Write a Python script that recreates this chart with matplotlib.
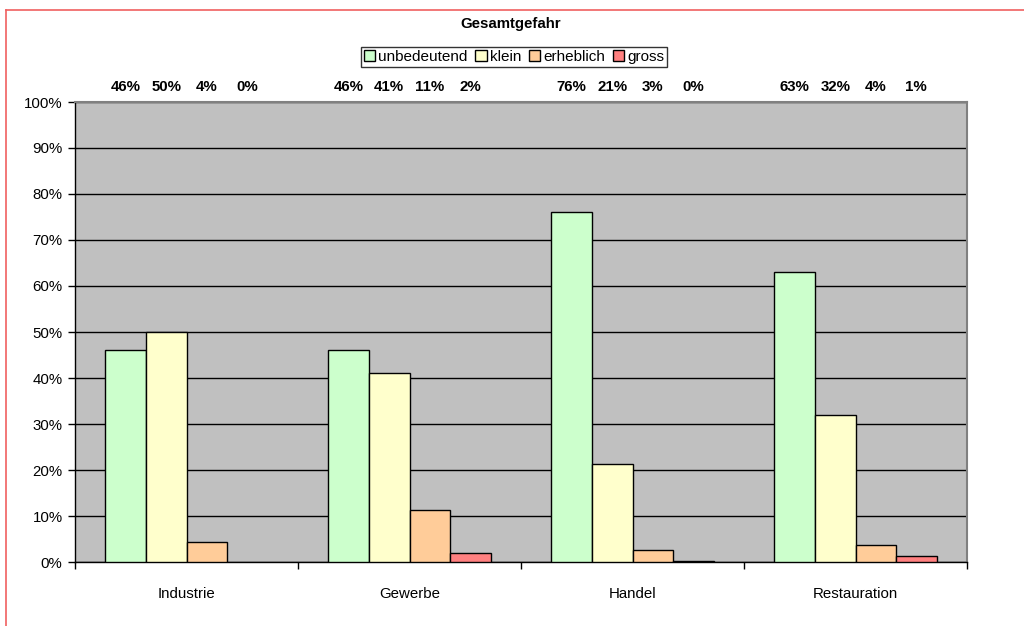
import matplotlib.pyplot as plt
import numpy as np
from matplotlib.lines import Line2D
from matplotlib.patches import Patch
from matplotlib.ticker import FixedLocator, NullFormatter

plt.rcParams['font.family'] = ['Liberation Sans', 'DejaVu Sans']

# Gesamtgefahr je Branche (Anteile in %)
branchen = ['Industrie', 'Gewerbe', 'Handel', 'Restauration']
stufen = ['unbedeutend', 'klein', 'erheblich', 'gross']
unbedeutend = [46, 46, 76, 63]
klein = [50, 41, 21.4, 32]
erheblich = [4.3, 11.4, 2.6, 3.7]
gross = [0, 1.9, 0.2, 1.4]
farben = ['#CCFFCC', '#FFFFCC', '#FFCC99', '#FF8080']

serien = [unbedeutend, klein, erheblich, gross]

fig = plt.figure(figsize=(10.24, 6.26), dpi=100)
ax = fig.add_axes([75/1024, 1 - 562/626, (967-75)/1024, (562-102)/626])
ax.set_facecolor('#C0C0C0')

n = len(branchen)
bw = 1 / 5.5
x = np.arange(n)
for i, (werte, farbe) in enumerate(zip(serien, farben)):
    pos = x - 1.5 * bw + i * bw
    lw = [1.0 if v > 0 else 0 for v in werte]
    ax.bar(pos, werte, width=bw, color=farbe, edgecolor='black', linewidth=lw,
           zorder=3)
    for px, v in zip(pos, werte):
        ax.text(px, 103.2, f'{v:.0f}%', ha='center', va='center',
                fontsize=10.8, fontweight='bold', clip_on=False)

ax.set_xlim(-0.5, n - 0.5)
ax.set_ylim(0, 100)
ax.set_yticks(np.arange(0, 101, 10))
ax.set_yticklabels([f'{t}%' for t in range(0, 101, 10)], fontsize=10.8)
ax.yaxis.grid(True, color='black', linewidth=1.0, zorder=1)
ax.set_axisbelow(True)

ax.xaxis.set_major_locator(FixedLocator(np.arange(-0.5, n, 1.0)))
ax.xaxis.set_major_formatter(NullFormatter())
ax.xaxis.set_minor_locator(FixedLocator(x))
ax.set_xticklabels(branchen, minor=True, fontsize=10.8)
ax.tick_params(axis='x', which='minor', length=0, pad=18)
ax.tick_params(axis='x', which='major', length=5, width=1, direction='out')
ax.tick_params(axis='y', length=5, width=1, direction='out', pad=4)

for s in ['left', 'bottom']:
    ax.spines[s].set_color('black')
    ax.spines[s].set_linewidth(1.0)
for s in ['top', 'right']:
    ax.spines[s].set_color('#808080')
    ax.spines[s].set_linewidth(1.5)

fig.text(0.499, 0.962, 'Gesamtgefahr', ha='center', va='center',
         fontsize=10.8, fontweight='bold')

handles = [Patch(facecolor=f, edgecolor='black', linewidth=1.0) for f in farben]
leg = fig.legend(handles, stufen, loc='center', bbox_to_anchor=(0.502, 0.909),
                 ncol=4, fontsize=11, frameon=True, fancybox=False,
                 edgecolor='black', handlelength=0.75, handleheight=0.75,
                 handletextpad=0.2, columnspacing=0.5, borderpad=0.2,
                 borderaxespad=0)
leg.get_frame().set_linewidth(1.0)

# roter Rahmen (nur links und oben sichtbar)
fig.add_artist(Line2D([6/1024, 6/1024], [0, 1 - 10/626], color='#F06060',
                      linewidth=1.2, transform=fig.transFigure))
fig.add_artist(Line2D([6/1024, 1], [1 - 10/626, 1 - 10/626], color='#F06060',
                      linewidth=1.2, transform=fig.transFigure))

fig.savefig('out.png', dpi=100)
